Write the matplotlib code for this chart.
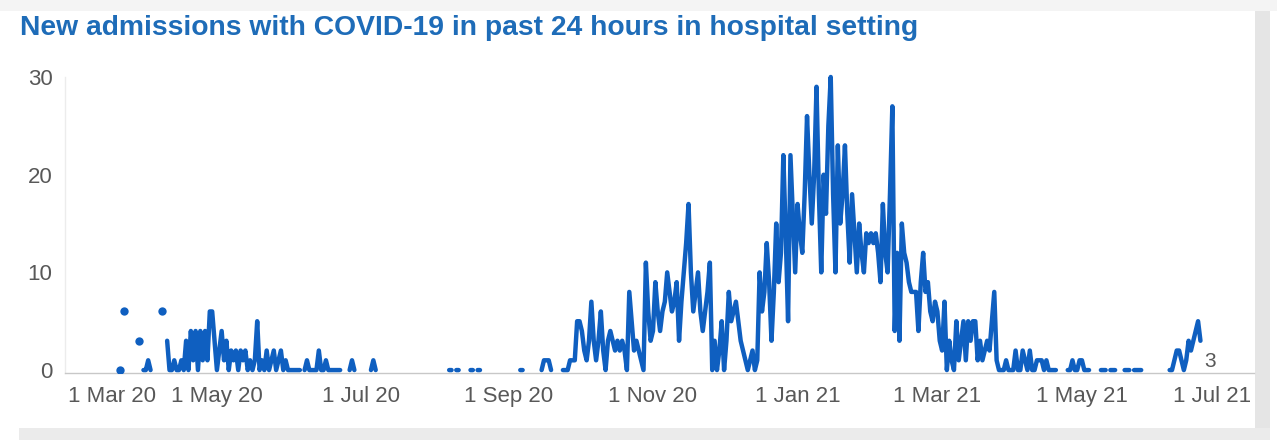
import numpy as np
import pandas as pd
import matplotlib
matplotlib.use('Agg')
import matplotlib.pyplot as plt
from matplotlib.patches import Rectangle
from matplotlib.transforms import ScaledTranslation

N = None  # no report that day

# daily admissions, one list per month
start = '2020-03-21'
mar_2020 = [0, N, 6, N, N, N, N, N, 3, N, 0]
apr_2020 = [0, 1, 0, N, N, N, N, 6, N, 3, 0, 0, 1, 0, 0, 1, 0, 3, 0, 4,
            1, 4, 0, 4, 1, 4, 1, 6, 6, 3]
may_2020 = [0, 2, 4, 1, 3, 0, 2, 1, 2, 0, 2, 1, 2, 0, 1, 0, 1, 5, 0, 1,
            0, 2, 0, 1, 2, 0, 1, 2, 0, 1, 0]
jun_2020 = [0, 0, 0, 0, 0, N, 0, 1, 0, 0, 0, 0, 2, 0, 0, 1, 0, 0, 0, 0,
            0, 0, N, N, N, 0, 1, 0, N, N]
jul_2020 = [N, N, N, N, 0, 1, 0] + [N] * 24
aug_2020 = [N] * 6 + [0, 0, N, 0, 0, N, N, N, N, 0, 0, N, 0, 0] + [N] * 11
sep_2020 = [N] * 5 + [0, 0, N] + [N] * 6 + [0, 1, 1, 1, 0, N, N, N, N,
                                              0, 0, 0, 1, 1, 1, 5]
oct_2020 = [5, 4, 2, 1, 3, 7, 3, 1, 3, 6, 2, 0, 3, 4, 3, 2, 3, 2, 3, 2,
            0, 8, 5, 2, 3, 2, 1, 0, 11, 6, 3]
nov_2020 = [4, 9, 6, 4, 6, 7, 10, 8, 6, 7, 9, 3, 7, 10, 13, 17, 10, 6, 8, 10,
            6, 4, 6, 8, 11, 0, 3, 0, 2, 5]
dec_2020 = [0, 3, 8, 5, 6, 7, 5, 3, 2, 1, 0, 1, 2, 0, 1, 10, 6, 8, 13, 9,
            3, 8, 15, 9, 12, 22, 14, 5, 22, 16, 10]
jan_2021 = [17, 14, 12, 18, 26, 20, 15, 20, 29, 18, 10, 20, 16, 25, 30, 18, 10, 23, 15, 18,
            23, 16, 11, 18, 14, 10, 15, 12, 10, 14, 13]
feb_2021 = [14, 13, 14, 12, 9, 17, 12, 10, 18, 27, 4, 12, 3, 15, 12, 11, 9, 8, 8, 8,
            4, 9, 12, 8, 9, 6, 5, 7]
mar_2021 = [6, 3, 2, 7, 0, 3, 1, 0, 5, 1, 3, 5, 1, 5, 3, 5, 5, 1, 3, 1,
            2, 3, 2, 5, 8, 1, 0, 0, 0, 1, 0]
apr_2021 = [0, 0, 2, 0, 0, 2, 1, 0, 2, 0, 0, 1, 1, 1, 0, 1, 0, 0, 0, 0,
            N, N, N, N, 0, 0, 1, 0, 0, 1]
may_2021 = [1, 0, 0, 0, N, N, N, N, 0, 0, 0, N, 0, 0, 0, N, N, N, 0, 0,
            0, N, 0, 0, 0, 0, N, N, N, N, N]
jun_2021 = [N] * 6 + [0, 0, 1, 2, 2, 1, 0, 1, 3, 2, 3, 4, 5, 3]

tick_dates = ['2020-03-01', '2020-05-01', '2020-07-01', '2020-09-01', '2020-11-01',
              '2021-01-01', '2021-03-01', '2021-05-01', '2021-07-01']
tick_labels = ['1 Mar 20', '1 May 20', '1 Jul 20', '1 Sep 20', '1 Nov 20',
               '1 Jan 21', '1 Mar 21', '1 May 21', '1 Jul 21']
y_ticks = [0, 10, 20, 30]
title = 'New admissions with COVID-19 in past 24 hours in hospital setting'

months = [mar_2020, apr_2020, may_2020, jun_2020, jul_2020, aug_2020, sep_2020, oct_2020,
          nov_2020, dec_2020, jan_2021, feb_2021, mar_2021, apr_2021, may_2021, jun_2021]
values = np.array([np.nan if v is None else v for m in months for v in m], dtype=float)
dates = pd.date_range(start, periods=len(values), freq='D')

blue = '#0f5fc0'
grey_txt = '#585858'

plt.rcParams['font.family'] = ['Liberation Sans', 'DejaVu Sans']

W, H = 1281, 440
fig = plt.figure(figsize=(W / 100, H / 100), dpi=100)
fig.patch.set_facecolor('white')


def fx(px):
    return px / W


def fy(py):
    return 1 - py / H


# grey frame pieces around the white panel
fig.add_artist(Rectangle((0, fy(11)), fx(1277), 11 / H, transform=fig.transFigure,
                         facecolor='#f4f4f4', edgecolor='none', zorder=0))
fig.add_artist(Rectangle((fx(1255), 0), fx(15), fy(11), transform=fig.transFigure,
                         facecolor='#e5e5e5', edgecolor='none', zorder=0))
fig.add_artist(Rectangle((fx(19), 0), fx(1251), 12 / H, transform=fig.transFigure,
                         facecolor='#ebebeb', edgecolor='none', zorder=0))

fig.text(fx(20), fy(35), title, fontsize=20.3, fontweight='bold', color='#1e6cb8',
         va='baseline', ha='left')

ax = fig.add_axes([fx(65), fy(373), fx(1254 - 65), (373 - 77) / H])
ax.set_facecolor('none')

ax.plot(dates, values, color=blue, lw=3.2, solid_capstyle='round',
        solid_joinstyle='round', clip_on=False, zorder=3)

# single days with no neighbours show up as dots
prev = np.r_[np.nan, values[:-1]]
nxt = np.r_[values[1:], np.nan]
lone = ~np.isnan(values) & np.isnan(prev) & np.isnan(nxt)
ax.plot(dates[lone], values[lone], 'o', ms=6, color=blue, mec='none', zorder=3)

ax.annotate('3', (dates[-1], values[-1]), xytext=(4, -21), textcoords='offset pixels',
            ha='left', va='center', fontsize=15, color=grey_txt, annotation_clip=False)

t0 = pd.Timestamp('2020-03-01')
ax.set_xlim(t0 - pd.Timedelta(days=3.1), t0 + pd.Timedelta(days=498.6))
ax.set_ylim(-0.3, 30)
ax.set_yticks(y_ticks)
ax.set_xticks(pd.to_datetime(tick_dates))
ax.set_xticklabels(tick_labels)
ax.tick_params(length=0, labelsize=16, colors=grey_txt)
ax.tick_params(axis='x', pad=9)
ax.tick_params(axis='y', pad=9)

for s in ['top', 'right']:
    ax.spines[s].set_visible(False)
ax.spines['left'].set_color('#ececec')
ax.spines['bottom'].set_color('#c8c8c8')
ax.spines['left'].set_linewidth(1)
ax.spines['bottom'].set_linewidth(1)

labels = ax.get_xticklabels()
labels[0].set_horizontalalignment('left')
labels[0].set_transform(labels[0].get_transform() +
                        ScaledTranslation(-0.04, 0, fig.dpi_scale_trans))
labels[-1].set_transform(labels[-1].get_transform() +
                         ScaledTranslation(-0.14, 0, fig.dpi_scale_trans))

fig.savefig('out.png', dpi=100)
